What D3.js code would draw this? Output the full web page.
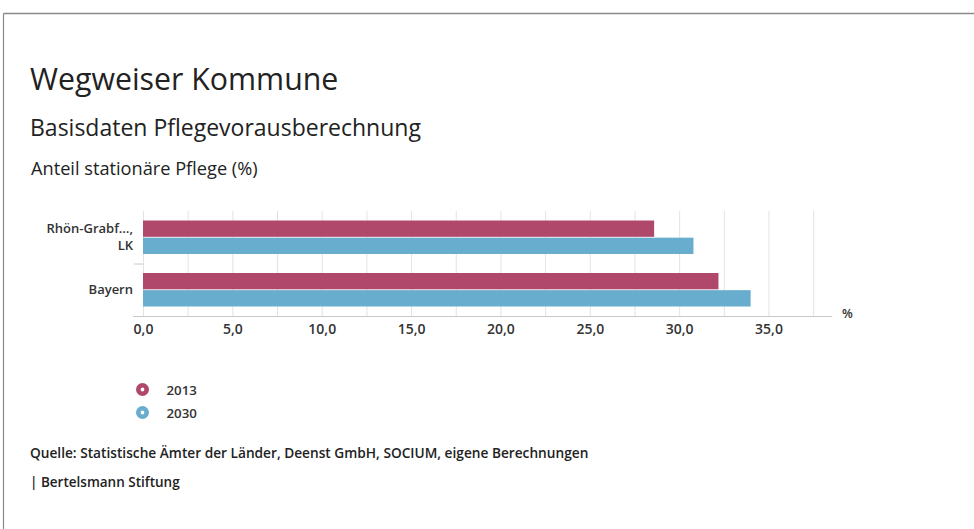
<!DOCTYPE html>
<html><head><meta charset="utf-8">
<script src="https://cdn.jsdelivr.net/npm/d3@7"></script>
<style>
html,body{margin:0;padding:0;background:#fff;}
svg{display:block;font-family:"Open Sans","Noto Sans",sans-serif;}
</style></head>
<body>
<svg id="c" width="974" height="529"></svg>
<script>
const categories = ["Rhön-Grabf…,|LK", "Bayern"];
const seriesNames = ["2013", "2030"];
const values2013 = [28.6, 32.2];
const values2030 = [30.8, 34.0];
const xTicks = [0, 5, 10, 15, 20, 25, 30, 35];
const gridTicks = [0, 2.5, 5, 7.5, 10, 12.5, 15, 17.5, 20, 22.5, 25, 27.5, 30, 32.5, 35, 37.5];
const colors = ["#b0486c", "#68acce"];

const svg = d3.select("#c");
// frame
svg.append("line").attr("x1",3.5).attr("x2",974).attr("y1",13.5).attr("y2",13.5).attr("stroke","#8a8a8a").attr("stroke-width",1.5);
svg.append("line").attr("x1",3.5).attr("x2",3.5).attr("y1",13.5).attr("y2",529).attr("stroke","#8a8a8a").attr("stroke-width",1.2);

svg.append("text").attr("x",30).attr("y",90).attr("font-size",30.3).attr("fill","#222").text("Wegweiser Kommune");
svg.append("text").attr("x",30).attr("y",136).attr("font-size",23).attr("fill","#222").text("Basisdaten Pflegevorausberechnung");
svg.append("text").attr("x",31).attr("y",175).attr("font-size",18.2).attr("fill","#222").text("Anteil stationäre Pflege (%)");

const x = d3.scaleLinear().domain([0,35]).range([143,768.5]);
const y0 = d3.scaleBand().domain(categories).range([211,316]).padding(0);
const y1 = d3.scaleBand().domain(seriesNames).range([9.5,43]).paddingInner(0.05);

// gridlines
svg.append("g").selectAll("line").data(gridTicks).join("line")
  .attr("x1",d=>x(d)+0.5).attr("x2",d=>x(d)+0.5).attr("y1",211).attr("y2",316)
  .attr("stroke","#e3e3e3").attr("stroke-width",1);

// bars
const data = categories.map((c,i)=>({c, vals:[values2013[i], values2030[i]]}));
const g = svg.append("g").selectAll("g").data(data).join("g")
  .attr("transform",d=>`translate(0,${y0(d.c)})`);
g.selectAll("rect").data(d=>d.vals.map((v,j)=>({v,s:seriesNames[j],j}))).join("rect")
  .attr("x",x(0)).attr("y",d=>y1(d.s)).attr("height",y1.bandwidth())
  .attr("width",d=>x(d.v)-x(0)).attr("fill",d=>colors[d.j]);

// x axis
const xAxis = d3.axisBottom(x).tickValues(xTicks).tickSize(0).tickPadding(8)
  .tickFormat(d=>d3.format(".1f")(d).replace(".",","));
const ax = svg.append("g").attr("transform","translate(0,316.5)").call(xAxis);
ax.select(".domain").remove();
ax.selectAll("text").attr("font-size",14).attr("font-weight",600).attr("fill","#333").attr("font-family","'Open Sans',sans-serif");
svg.append("line").attr("x1",133).attr("x2",832).attr("y1",316.5).attr("y2",316.5).attr("stroke","#c8c8c8");
svg.append("text").attr("x",842).attr("y",318).attr("font-size",12.5).attr("font-weight",600).attr("fill","#333").text("%");

// y axis ticks (category boundaries)
svg.append("line").attr("x1",134).attr("x2",143).attr("y1",y0(categories[1])+0.5).attr("y2",y0(categories[1])+0.5).attr("stroke","#c8c8c8");

// category labels
const lab = svg.append("g").selectAll("text").data(categories).join("text")
  .attr("text-anchor","end").attr("font-size",13).attr("font-weight",600).attr("fill","#333")
  .attr("transform",d=>`translate(133,${y0(d)+y0.bandwidth()/2})`);
lab.each(function(d){
  const parts = d.split("|");
  const t = d3.select(this);
  parts.forEach((p,i)=>{
    t.append("tspan").attr("x",0).attr("y",(i-(parts.length-1)/2)*16.5+4).text(p);
  });
});

// legend
const lg = svg.append("g").selectAll("g").data(seriesNames).join("g")
  .attr("transform",(d,i)=>`translate(142.5,${389.5+i*23})`);
lg.append("circle").attr("r",4.2).attr("fill","#fff").attr("stroke",(d,i)=>colors[i]).attr("stroke-width",4.6);
lg.append("text").attr("x",24).attr("y",5).attr("font-size",13.3).attr("font-weight",600).attr("fill","#333").text(d=>d);

svg.append("text").attr("x",30).attr("y",458).attr("font-size",13.7).attr("font-weight",600).attr("fill","#222")
  .text("Quelle: Statistische Ämter der Länder, Deenst GmbH, SOCIUM, eigene Berechnungen");
svg.append("text").attr("x",30).attr("y",487).attr("font-size",13.5).attr("font-weight",600).attr("fill","#222")
  .text("| Bertelsmann Stiftung");
</script>
</body></html>
